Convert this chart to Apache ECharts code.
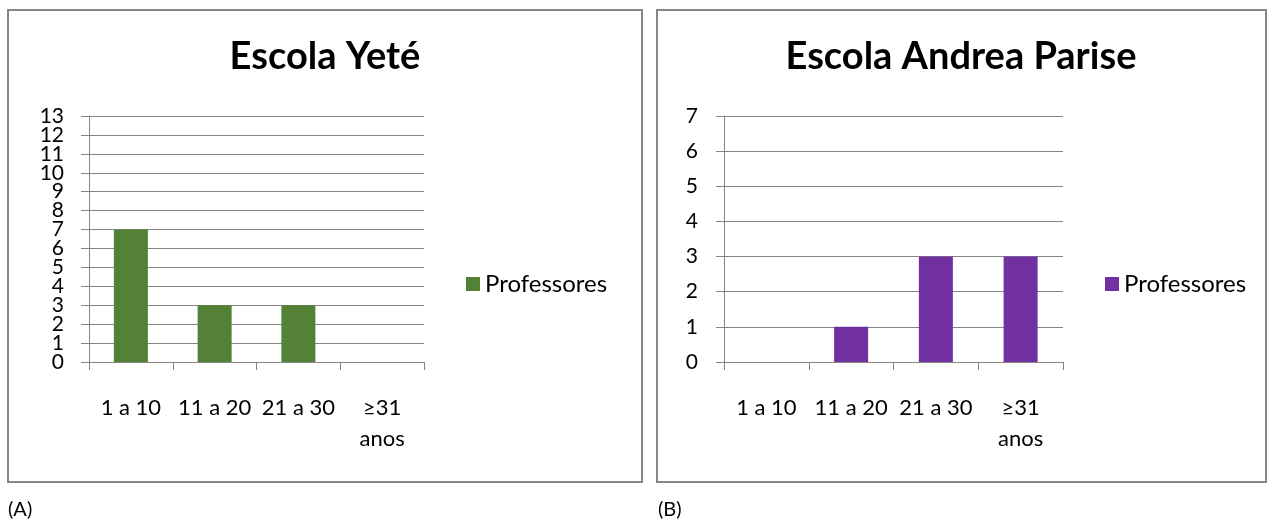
<!DOCTYPE html>
<html>
<head>
<meta charset="utf-8">
<script src="https://cdn.jsdelivr.net/npm/echarts@6/dist/echarts.min.js"></script>
<style>
  html, body { margin: 0; padding: 0; background: #ffffff; }
  #chart { width: 1269px; height: 520px; }
</style>
</head>
<body>
<div id="chart"></div>
<script>
// Teachers by years of service, two schools
const categories = ['1 a 10', '11 a 20', '21 a 30', '≥31\nanos'];
const seriesName = 'Professores';
const yeteValues = [7, 3, 3, 0];
const pariseValues = [0, 1, 3, 3];
const yeteTitle = 'Escola Yeté';
const pariseTitle = 'Escola Andrea Parise';
const yeteMax = 13;
const pariseMax = 7;
const panelLabels = ['(A)', '(B)'];

const FONT = 'Lato, "Open Sans", sans-serif';
const GRAY = '#868686';
const GREEN = '#538135';
const PURPLE = '#7030a0';

function xAxisFor(gridIndex) {
  return {
    type: 'category',
    gridIndex: gridIndex,
    data: categories,
    boundaryGap: true,
    axisLine: { show: true, lineStyle: { color: GRAY, width: 1 } },
    axisTick: { show: true, length: 8, interval: 0, alignWithLabel: false, lineStyle: { color: GRAY } },
    axisLabel: {
      interval: 0,
      margin: 30,
      fontFamily: FONT,
      fontSize: 22,
      lineHeight: 31,
      color: '#000000'
    },
    splitLine: { show: false }
  };
}

const yLabelText = { fontFamily: FONT, fontSize: 21, color: '#000000' };

function yAxisFor(gridIndex, max, margin) {
  return {
    type: 'value',
    gridIndex: gridIndex,
    min: 0,
    max: max,
    interval: 1,
    axisLine: { show: true, lineStyle: { color: GRAY, width: 1 } },
    axisTick: { show: true, length: 8, lineStyle: { color: GRAY } },
    axisLabel: Object.assign({ margin: margin, showMinLabel: true, showMaxLabel: true }, yLabelText),
    splitLine: { show: true, lineStyle: { color: GRAY, width: 1 } }
  };
}

// The 0–13 scale is packed tightly, so its tick labels are split over two
// coincident axes (odd values / even values) to keep every number visible.
function yLabelOnlyAxis(gridIndex, max, margin, parity) {
  return {
    type: 'value',
    gridIndex: gridIndex,
    position: 'left',
    offset: 0,
    min: 0,
    max: max,
    interval: 1,
    axisLine: { show: false },
    axisTick: { show: false },
    splitLine: { show: false },
    axisLabel: Object.assign({
      margin: margin,
      showMinLabel: parity === 0,
      showMaxLabel: (max % 2) === parity,
      formatter: function (v) { return (v % 2) === parity ? String(v) : ''; }
    }, yLabelText)
  };
}

function legendFor(left, color) {
  return {
    left: left,
    top: 272,
    padding: 0,
    icon: 'rect',
    itemWidth: 14,
    itemHeight: 14,
    selectedMode: false,
    textStyle: { fontFamily: FONT, fontSize: 24, color: '#000000' },
    data: [{ name: seriesName, itemStyle: { color: color } }]
  };
}

const yeteAxis = yAxisFor(0, yeteMax, 25);
yeteAxis.axisLabel = { show: false };

const chart = echarts.init(document.getElementById('chart'), null, { renderer: 'canvas' });

chart.setOption({
  animation: false,
  backgroundColor: '#ffffff',
  grid: [
    { left: 89, top: 116, width: 335, height: 246, containLabel: false },
    { left: 724, top: 116, width: 339, height: 246, containLabel: false }
  ],
  xAxis: [xAxisFor(0), xAxisFor(1)],
  yAxis: [
    yeteAxis,
    yAxisFor(1, pariseMax, 26),
    yLabelOnlyAxis(0, yeteMax, 25, 1),
    yLabelOnlyAxis(0, yeteMax, 25, 0)
  ],
  legend: [legendFor(466, GREEN), legendFor(1105, PURPLE)],
  series: [
    {
      name: seriesName,
      type: 'bar',
      xAxisIndex: 0,
      yAxisIndex: 0,
      data: yeteValues,
      barWidth: 34,
      itemStyle: { color: GREEN }
    },
    {
      name: seriesName,
      type: 'bar',
      xAxisIndex: 1,
      yAxisIndex: 1,
      data: pariseValues,
      barWidth: 34,
      itemStyle: { color: PURPLE }
    }
  ],
  graphic: [
    // panel frames
    { type: 'rect', shape: { x: 8, y: 10, width: 634, height: 472 },
      style: { fill: 'none', stroke: GRAY, lineWidth: 2 }, silent: true },
    { type: 'rect', shape: { x: 657, y: 10, width: 609, height: 472 },
      style: { fill: 'none', stroke: GRAY, lineWidth: 2 }, silent: true },
    // chart titles
    { type: 'text', x: 325, y: 57,
      style: { text: yeteTitle, textAlign: 'center', textVerticalAlign: 'middle',
               font: 'bold 38px ' + FONT, fill: '#000000' } },
    { type: 'text', x: 961, y: 57,
      style: { text: pariseTitle, textAlign: 'center', textVerticalAlign: 'middle',
               font: 'bold 38px ' + FONT, fill: '#000000' } },
    // panel captions
    { type: 'text', x: 8, y: 510,
      style: { text: panelLabels[0], textAlign: 'left', textVerticalAlign: 'middle',
               font: '20px ' + FONT, fill: '#000000' } },
    { type: 'text', x: 658, y: 510,
      style: { text: panelLabels[1], textAlign: 'left', textVerticalAlign: 'middle',
               font: '20px ' + FONT, fill: '#000000' } }
  ]
});
</script>
</body>
</html>
